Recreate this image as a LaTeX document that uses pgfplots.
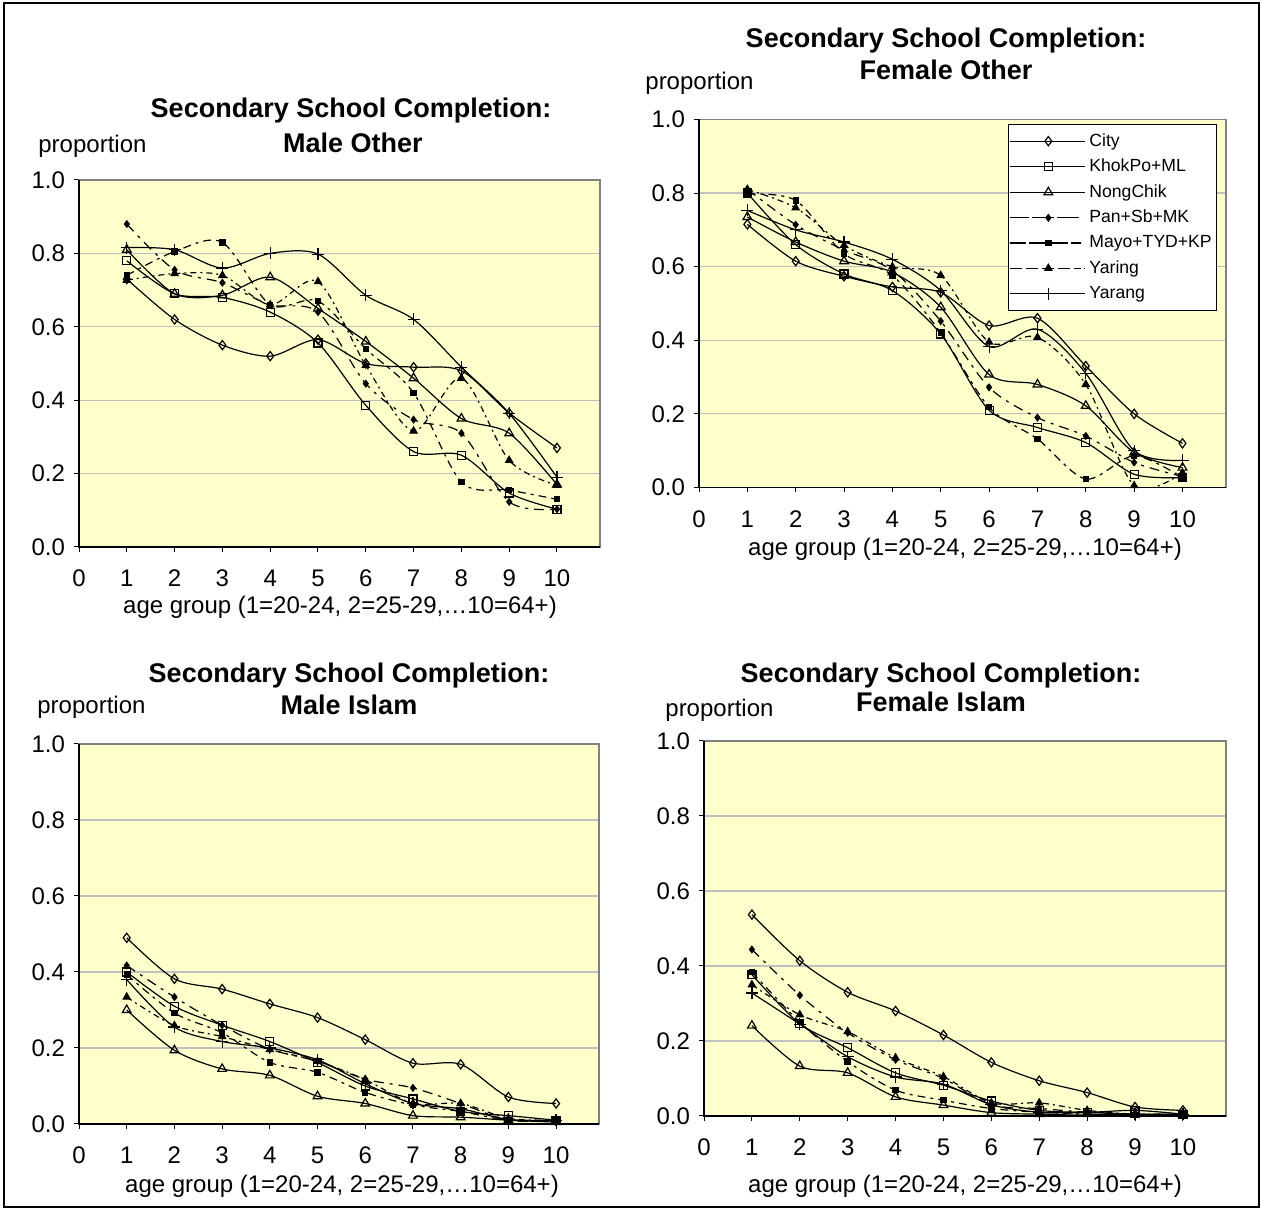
\documentclass[border=0pt]{standalone}
\usepackage{fontspec}
\setmainfont{Liberation Sans}
\usepackage{pgfplots}
\usepackage{pgfplotstable}
\pgfplotsset{compat=1.18}

\definecolor{plotbg}{HTML}{FFFFCC}
\definecolor{gridgray}{HTML}{C0C0C0}
\definecolor{framegray}{HTML}{808080}

% Male Other
\pgfplotstableread{
x city khok nong pan mayo yaring yarang
1 0.73  0.78  0.81  0.88  0.74  0.727 0.816
2 0.62  0.69  0.69  0.755 0.805 0.745 0.81
3 0.55  0.68  0.686 0.72  0.83  0.74  0.76
4 0.52  0.64  0.735 0.66  0.66  0.66  0.80
5 0.565 0.556 0.65  0.64  0.67  0.723 0.798
6 0.50  0.386 0.56  0.445 0.54  0.495 0.686
7 0.49  0.26  0.46  0.347 0.42  0.316 0.62
8 0.48  0.25  0.35  0.31  0.177 0.46  0.49
9 0.365 0.147 0.31  0.123 0.155 0.236 0.364
10 0.27 0.103 0.17  0.103 0.13  0.168 0.19
}\maleother
% Female Other
\pgfplotstableread{
x city khok nong pan mayo yaring yarang
1 0.715 0.80  0.735 0.81  0.797 0.81  0.753
2 0.615 0.66  0.667 0.714 0.78  0.76  0.70
3 0.574 0.58  0.615 0.645 0.635 0.658 0.667
4 0.545 0.535 0.585 0.59  0.576 0.60  0.62
5 0.53  0.417 0.49  0.452 0.42  0.576 0.535
6 0.44  0.21  0.307 0.272 0.218 0.395 0.383
7 0.46  0.163 0.28  0.19  0.132 0.408 0.43
8 0.33  0.122 0.222 0.14  0.023 0.28  0.31
9 0.20  0.036 0.095 0.068 0.086 0.005 0.10
10 0.12 0.027 0.054 0.03  0.027 0.04  0.074
}\femaleother
% Male Islam
\pgfplotstableread{
x city khok nong pan mayo yaring yarang
1 0.49  0.40  0.30  0.417 0.393 0.334 0.38
2 0.382 0.31  0.194 0.334 0.292 0.259 0.255
3 0.355 0.26  0.145 0.26  0.24  0.23  0.217
4 0.316 0.217 0.128 0.197 0.162 0.196 0.20
5 0.28  0.162 0.073 0.165 0.136 0.165 0.169
6 0.222 0.10  0.054 0.118 0.083 0.117 0.106
7 0.16  0.066 0.022 0.095 0.05  0.054 0.054
8 0.157 0.033 0.018 0.054 0.033 0.054 0.04
9 0.071 0.022 0.01  0.01  0.01  0.015 0.012
10 0.054 0.01 0.005 0.01  0.01  0.01  0.01
}\maleislam
% Female Islam
\pgfplotstableread{
x city khok nong pan mayo yaring yarang
1 0.537 0.377 0.241 0.444 0.384 0.35  0.328
2 0.414 0.246 0.133 0.322 0.25  0.27  0.245
3 0.33  0.182 0.115 0.222 0.145 0.225 0.158
4 0.28  0.115 0.051 0.15  0.069 0.155 0.104
5 0.216 0.082 0.029 0.10  0.042 0.105 0.085
6 0.143 0.04  0.009 0.03  0.02  0.035 0.03
7 0.094 0.015 0.005 0.02  0.01  0.035 0.01
8 0.0625 0.01 0.005 0.01  0.005 0.015 0.01
9 0.024 0.015 0.003 0.005 0.003 0.005 0.005
10 0.015 0.005 0.003 0.005 0.003 0.005 0.005
}\femaleislam

\pgfplotsset{
  panel/.style={
    scale only axis,
    xmin=0, xmax=10.9, ymin=0, ymax=1,
    xtick={0,1,2,3,4,5,6,7,8,9,10},
    ytick={0,0.2,0.4,0.6,0.8,1.0},
    ymajorgrids,
    grid style={draw=gridgray, line width=0.6pt},
    axis background/.style={fill=plotbg},
    axis line style={draw=framegray, line width=0.6pt},
    tick pos=left, tick align=outside, major tick length=2.5pt,
    tick style={black, line width=0.5pt},
    /pgf/number format/assume math mode=true,
    tick label style={font=\fontsize{12}{14}\selectfont},
    yticklabel style={xshift=-1pt, /pgf/number format/.cd, fixed, fixed zerofill, precision=1},
    xticklabel style={yshift=-5.5pt, /pgf/number format/.cd, fixed, precision=0},
    every axis plot/.append style={line width=0.6pt, smooth, tension=0.5},
    after end axis/.code={\draw[black, line width=0.6pt] (rel axis cs:0,1) -- (rel axis cs:0,0) -- (rel axis cs:1,0);},
  },
  scity/.style={black, solid, mark=diamond, mark size=2.3pt, mark options={solid, fill=none}},
  skhok/.style={black, solid, mark=square, mark size=2pt, mark options={solid, fill=none}},
  snong/.style={black, solid, mark=triangle, mark size=2.5pt, mark options={solid, fill=none}},
  span/.style={black, dash pattern=on 5pt off 3pt on 1.5pt off 3pt, mark=diamond*, mark size=1.6pt, mark options={solid, fill=black}},
  smayo/.style={black, dash pattern=on 4pt off 2.5pt on 1.5pt off 2.5pt, mark=square*, mark size=1.3pt, mark options={solid, fill=black}},
  syaring/.style={black, dash pattern=on 3pt off 2pt on 1pt off 2pt, mark=triangle*, mark size=2pt, mark options={solid, fill=black}},
  syarang/.style={black, solid, mark=+, mark size=3pt, mark options={solid}},
}

\newcommand{\allseries}[1]{%
  \addplot[scity] table[x=x, y=city] {#1};
  \addplot[skhok] table[x=x, y=khok] {#1};
  \addplot[snong] table[x=x, y=nong] {#1};
  \addplot[span] table[x=x, y=pan] {#1};
  \addplot[smayo] table[x=x, y=mayo] {#1};
  \addplot[syaring] table[x=x, y=yaring] {#1};
  \addplot[syarang] table[x=x, y=yarang] {#1};
}

\begin{document}
\begin{tikzpicture}
\useasboundingbox (0pt,0pt) rectangle (631pt,604.5pt);
\draw[black, line width=1pt] (2pt,1pt) rectangle (629.5pt,603pt);

% ---------- Male Other ----------
\begin{axis}[panel, at={(39.5pt,331pt)}, anchor=south west, width=260.5pt, height=183.5pt]
\allseries{\maleother}
\end{axis}
\node[anchor=base, font=\fontsize{13.5}{16}\selectfont\bfseries] at (175.5pt,545.5pt) {Secondary School Completion:};
\node[anchor=base, font=\fontsize{13.5}{16}\selectfont\bfseries] at (176.5pt,528pt) {Male Other};
\node[anchor=base west, inner sep=0pt, font=\fontsize{12}{14}\selectfont] at (19pt,528pt) {proportion};
\node[anchor=base, font=\fontsize{12}{14}\selectfont] at (170pt,297.5pt) {age group (1=20-24, 2=25-29,…10=64+)};

% ---------- Female Other ----------
\begin{axis}[panel, at={(349.5pt,360.75pt)}, anchor=south west, width=263.5pt, height=184pt,
  legend style={at={(0.586,0.988)}, anchor=north west, draw=black, fill=white,
    font=\fontsize{8.8}{10}\selectfont, row sep=0.9pt, inner xsep=0.5pt, inner ysep=2.5pt,
    cells={anchor=west, inner xsep=1pt}},
  legend image code/.code={\path (0pt,0pt) -- (37.5pt,0pt);
    \draw[mark repeat=2, mark phase=2, #1] plot coordinates {(3pt,0pt) (19.25pt,0pt) (35.5pt,0pt)};},
]
\allseries{\femaleother}
\legend{City, KhokPo+ML, NongChik, Pan+Sb+MK, Mayo+TYD+KP, Yaring, Yarang}
\end{axis}
\node[anchor=base, font=\fontsize{13.5}{16}\selectfont\bfseries] at (473pt,580.5pt) {Secondary School Completion:};
\node[anchor=base, font=\fontsize{13.5}{16}\selectfont\bfseries] at (473pt,564.5pt) {Female Other};
\node[anchor=base west, inner sep=0pt, font=\fontsize{12}{14}\selectfont] at (322.5pt,559.5pt) {proportion};
\node[anchor=base, font=\fontsize{12}{14}\selectfont] at (482.5pt,326.5pt) {age group (1=20-24, 2=25-29,…10=64+)};

% ---------- Male Islam ----------
\begin{axis}[panel, at={(39.5pt,42.5pt)}, anchor=south west, width=260pt, height=190pt]
\allseries{\maleislam}
\end{axis}
\node[anchor=base, font=\fontsize{13.5}{16}\selectfont\bfseries] at (174.5pt,263pt) {Secondary School Completion:};
\node[anchor=base, font=\fontsize{13.5}{16}\selectfont\bfseries] at (174.5pt,247pt) {Male Islam};
\node[anchor=base west, inner sep=0pt, font=\fontsize{12}{14}\selectfont] at (18.5pt,247.5pt) {proportion};
\node[anchor=base, font=\fontsize{12}{14}\selectfont] at (171pt,8.5pt) {age group (1=20-24, 2=25-29,…10=64+)};

% ---------- Female Islam ----------
\begin{axis}[panel, at={(352pt,46.5pt)}, anchor=south west, width=261pt, height=187.5pt]
\allseries{\femaleislam}
\end{axis}
\node[anchor=base, font=\fontsize{13.5}{16}\selectfont\bfseries] at (470.5pt,263pt) {Secondary School Completion:};
\node[anchor=base, font=\fontsize{13.5}{16}\selectfont\bfseries] at (470.5pt,248.5pt) {Female Islam};
\node[anchor=base west, inner sep=0pt, font=\fontsize{12}{14}\selectfont] at (332.5pt,246pt) {proportion};
\node[anchor=base, font=\fontsize{12}{14}\selectfont] at (482.5pt,8.5pt) {age group (1=20-24, 2=25-29,…10=64+)};
\end{tikzpicture}
\end{document}
